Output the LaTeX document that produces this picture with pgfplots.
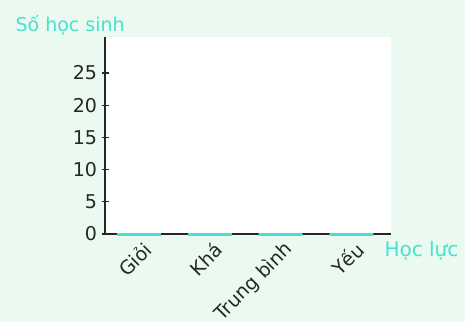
\documentclass[border=0pt]{standalone}
\usepackage{pgfplots}
\pgfplotsset{compat=1.18}
\usepackage{fontspec}
\setmainfont{DejaVu Sans}
\definecolor{bg}{RGB}{234,250,240}
\definecolor{cy}{RGB}{72,224,208}
\begin{document}
\begin{tikzpicture}[x=1pt,y=1pt]
\fill[bg] (0,0) rectangle (465,322);
\begin{axis}[
  at={(105pt,88pt)}, anchor=south west,
  scale only axis, width=286pt, height=197pt,
  xmin=-0.48, xmax=3.56, ymin=0, ymax=30.6,
  clip=false,
  axis background/.style={fill=white},
  axis lines*=left,
  axis line style={line width=2.2pt, black!85, -},
  ytick={0,5,10,15,20,25},
  xtick={0,1,2,3},
  xticklabels={Giỏi,Khá,Trung bình,Yếu},
  ytick align=center,
  major tick length=7pt,
  ytick style={line width=1.3pt, black!85},
  xtick style={draw=none},
  /pgf/number format/assume math mode=true,
  every tick label/.append style={font=\fontsize{19}{22}\selectfont, text=black!85},
  yticklabel style={xshift=-1pt},
  xticklabel style={font=\fontsize{19}{22}\selectfont, rotate=45, anchor=east, xshift=1pt, yshift=-15pt},
  ylabel={Số học sinh},
  ylabel style={rotate=-90, at={(axis description cs:-0.325,1.06)}, anchor=west, text=cy, font=\fontsize{19}{22}\selectfont},
  xlabel={Học lực},
  xlabel style={at={(axis description cs:0.965,-0.086)}, anchor=west, text=cy, font=\fontsize{20}{23}\selectfont},
]
\addplot[ybar, bar width=44pt, draw=cy, fill=cy, line width=3pt] coordinates {(0,0) (1,0) (2,0) (3,0)};
\end{axis}
\pgfresetboundingbox
\useasboundingbox (0,0) rectangle (465,322);
\end{tikzpicture}
\end{document}
